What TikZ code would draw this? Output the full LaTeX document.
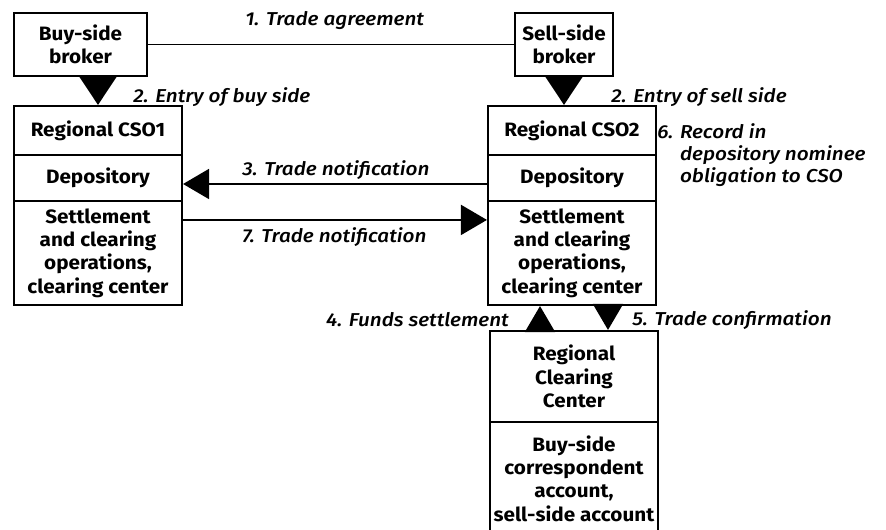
\documentclass[tikz,border=0pt]{standalone}
\usepackage{fontspec}
\setmainfont{Fira Sans}[FakeStretch=1.07]
\newfontfamily\labfont{Fira Sans Medium Italic}[FakeStretch=1.11]
\usetikzlibrary{arrows.meta}
\begin{document}
\begin{tikzpicture}[x=0.75pt,y=-0.75pt,
  box/.style={draw,line width=1.6pt,inner sep=2pt,align=center,
    font=\fontsize{14.5}{17.5}\selectfont\bfseries},
  lab/.style={inner sep=0pt,font=\fontsize{14}{16.5}\selectfont\labfont},
  link/.style={line width=1.4pt},
  bigtip/.style={-{Triangle[length=21.75pt,width=28.5pt]}},
  midtip/.style={-{Triangle[length=19.5pt,width=22.5pt]}}]
\useasboundingbox (0,0) rectangle (886,530);

% brokers
\node[box,minimum width=99.75pt,minimum height=47.25pt] (buy) at (80.5,44.5) {Buy-side\\broker};
\node[box,minimum width=73.5pt,minimum height=47.25pt] (sell) at (564,44.5) {Sell-side\\broker};

% regional CSO 1
\node[box,minimum width=126pt,minimum height=36.75pt] (csoAa) at (98,130.5) {Regional CSO1};
\node[box,minimum width=126pt,minimum height=34.5pt] (csoAb) at (98,178) {Depository};
\node[box,minimum width=126pt,minimum height=78pt] (csoAc) at (98,253) {Settlement\\and clearing\\operations,\\clearing center};

% regional CSO 2
\node[box,minimum width=126pt,minimum height=36.75pt] (csoBa) at (572,130.5) {Regional CSO2};
\node[box,minimum width=126pt,minimum height=34.5pt] (csoBb) at (572,178) {Depository};
\node[box,minimum width=126pt,minimum height=78pt] (csoBc) at (572,253) {Settlement\\and clearing\\operations,\\clearing center};

% regional clearing center
\node[box,minimum width=126pt,minimum height=68.25pt] (rcca) at (574,376.5) {Regional\\Clearing\\Center};
\node[box,minimum width=126pt,minimum height=84.75pt] (rccb) at (574,478.5) {Buy-side\\correspondent\\account,\\sell-side account};

% connectors
\draw[link] (buy.east) -- (sell.west);
\draw[link,bigtip] (buy.south -| csoAa.north) -- (csoAa.north);
\draw[link,bigtip] (sell.south) -- (sell.south |- csoBa.north);
\draw[link,midtip] ([yshift=-4.5pt]csoBb.west) -- ([yshift=-4.5pt]csoAb.east);
\draw[link,midtip] ([yshift=-15pt]csoAc.north east) -- ([yshift=-15pt]csoBc.north west);
\draw[link,midtip] ([xshift=-25.5pt]rcca.north) -- ([xshift=-25.5pt]rcca.north |- csoBc.south);
\draw[link,midtip] ([xshift=27pt]csoBc.south) -- ([xshift=27pt]csoBc.south |- rcca.north);

% step labels
\node[lab,anchor=west] (l1) at (245,21) {1. Trade agreement};
\node[lab,anchor=west] (l2a) at (133,97) {2. Entry of buy side};
\node[lab,anchor=west] (l2b) at (611,97) {2. Entry of sell side};
\node[lab,anchor=west] (l3) at (242,170) {3. Trade notification};
\node[lab,anchor=west] (l7) at (242,237) {7. Trade notification};
\node[lab,anchor=east] (l4) at (509,320) {4. Funds settlement};
\node[lab,anchor=west] (l5) at (632,320) {5. Trade confirmation};
\node[lab,anchor=north west] (l6) at (657,123)
  {\begin{tabular}{@{}l@{ }l@{}}6. & Record in\\ & depository nominee\\ & obligation to CSO\end{tabular}};
\end{tikzpicture}
\end{document}
